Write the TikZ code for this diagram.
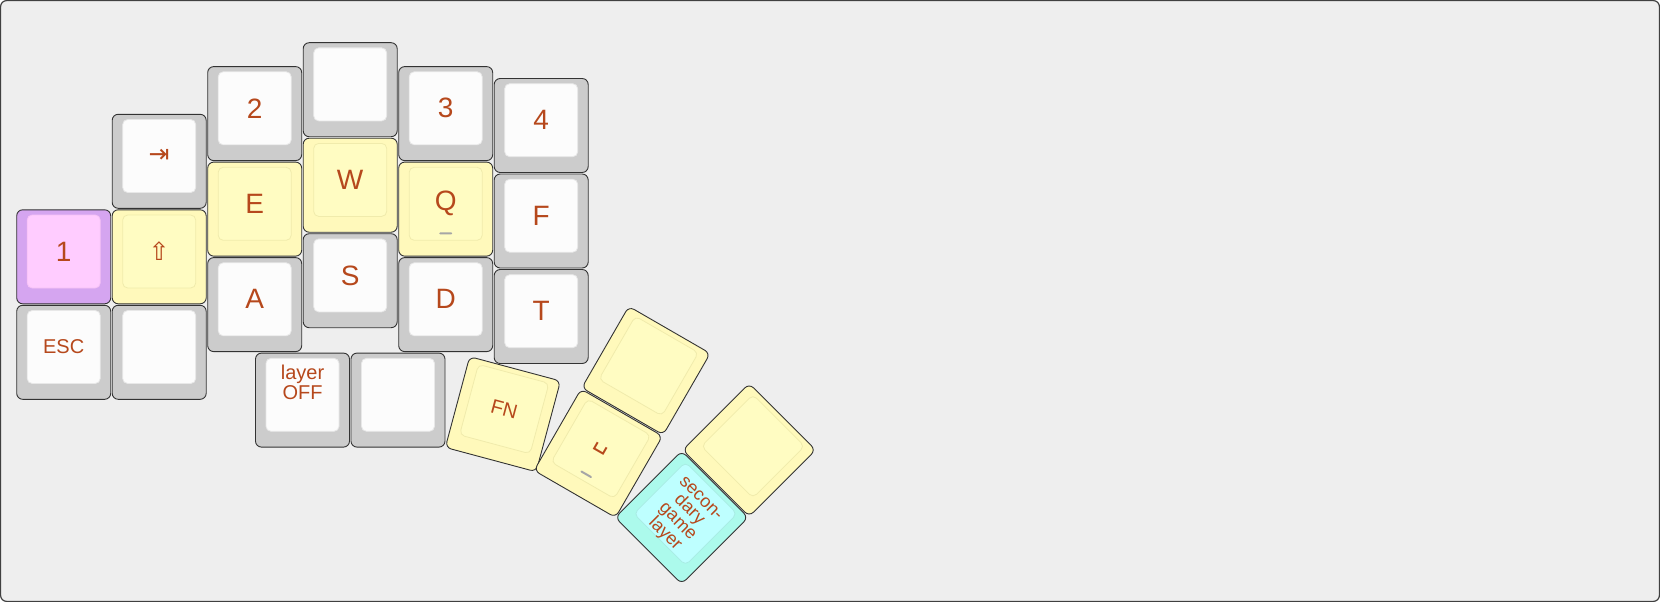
\documentclass[tikz,border=0pt]{standalone}
\usepackage{fontspec}
\setmainfont{Liberation Sans}
\newfontfamily\symfont{DejaVu Sans}
\usetikzlibrary{calc}

\definecolor{legend}{RGB}{182,72,28}
\definecolor{bgpanel}{RGB}{238,238,238}
\definecolor{greyb}{RGB}{204,204,204}
\definecolor{greyt}{RGB}{252,252,252}
\definecolor{greyl}{RGB}{232,232,232}
\definecolor{yellb}{RGB}{255,249,187}
\definecolor{yellt}{RGB}{255,252,194}
\definecolor{yelll}{RGB}{240,235,172}
\definecolor{purpb}{RGB}{213,165,240}
\definecolor{purpt}{RGB}{255,204,255}
\definecolor{purpl}{RGB}{246,194,246}
\definecolor{cyanb}{RGB}{172,250,236}
\definecolor{cyant}{RGB}{190,255,255}
\definecolor{cyanl}{RGB}{168,236,228}

\tikzset{
  keybase/.style={draw=black!80,line width=0.9pt,rounded corners=6pt,minimum size=94pt,inner sep=0pt},
  keyface/.style={line width=0.8pt,rounded corners=5pt,minimum size=73pt,inner sep=0pt},
  keylegend/.style={text=legend,align=center,inner sep=0pt,font=\fontsize{28}{28}\selectfont},
  small/.style={font=\fontsize{20}{20}\selectfont},
  tiny/.style={font=\fontsize{18}{16.5}\selectfont},
  sym/.style={font=\symfont\fontsize{25}{25}\selectfont},
  homing/.style={fill=black!35,minimum width=13pt,minimum height=2pt,inner sep=0pt,rounded corners=1pt},
  greybase/.style={fill=greyb}, greyface/.style={fill=greyt,draw=greyl},
  yellbase/.style={fill=yellb}, yellface/.style={fill=yellt,draw=yelll},
  purpbase/.style={fill=purpb}, purpface/.style={fill=purpt,draw=purpl},
  cyanbase/.style={fill=cyanb}, cyanface/.style={fill=cyant,draw=cyanl}
}

% name, colour, x, y, angle, legend options, legend
\newcommand{\kbkey}[7]{%
  \node[keybase,#2base,rotate=#5] (#1) at (#3,#4) {};
  \node[keyface,#2face,rotate=#5] (#1f) at ($(#1.center)!5.3pt!(#1.north)$) {};
  \node[keylegend,rotate=#5,#6] (#1l) at (#1f.center) {#7};
}

\begin{document}
\begin{tikzpicture}[x=1pt,y=-1pt]
\useasboundingbox (0,0) rectangle (1660,602);
\draw[rounded corners=6pt,fill=bgpanel,draw=black!75,line width=1.2pt] (0.6,0.6) rectangle (1659.4,601.4);

\kbkey{kone}{purp}{63.7}{256.8}{0}{}{1}
\kbkey{kesc}{grey}{63.7}{352.3}{0}{small}{ESC}
\kbkey{ktab}{grey}{159.2}{161.3}{0}{sym}{⇥}
\kbkey{kshift}{yell}{159.2}{256.8}{0}{sym}{⇧}
\kbkey{kblanka}{grey}{159.2}{352.3}{0}{}{}
\kbkey{ktwo}{grey}{254.7}{113.6}{0}{}{2}
\kbkey{ke}{yell}{254.7}{209.1}{0}{}{E}
\kbkey{ka}{grey}{254.7}{304.6}{0}{}{A}
\kbkey{kblankb}{grey}{350.2}{89.7}{0}{}{}
\kbkey{kw}{yell}{350.2}{185.2}{0}{}{W}
\kbkey{ks}{grey}{350.2}{280.7}{0}{}{S}
\kbkey{kthree}{grey}{445.7}{113.6}{0}{}{3}
\kbkey{kq}{yell}{445.7}{209.1}{0}{}{Q}
\kbkey{kd}{grey}{445.7}{304.6}{0}{}{D}
\kbkey{kfour}{grey}{541.2}{125.5}{0}{}{4}
\kbkey{kf}{grey}{541.2}{221}{0}{}{F}
\kbkey{kt}{grey}{541.2}{316.5}{0}{}{T}
\kbkey{klayer}{grey}{302.5}{400.1}{0}{small,yshift=12.5pt}{layer\\OFF}
\kbkey{kblankc}{grey}{398}{400.1}{0}{}{}
\kbkey{kfn}{yell}{502.9}{414.2}{-15}{small}{FN}
\kbkey{kspace}{yell}{598.3}{453.3}{-30}{sym}{␣}
\kbkey{kblankd}{yell}{646}{370.6}{-30}{}{}
\kbkey{kgame}{cyan}{681.7}{517.5}{-45}{tiny,yshift=-5pt}{secon-\\dary\\game\\layer}
\kbkey{kblanke}{yell}{749.2}{450}{-45}{}{}

\node[homing] (qbar) at ($(kqf.center)!29.5pt!(kqf.south)$) {};
\node[homing,rotate=-30] (spacebar) at ($(kspacef.center)!29.5pt!(kspacef.south)$) {};
\end{tikzpicture}
\end{document}
